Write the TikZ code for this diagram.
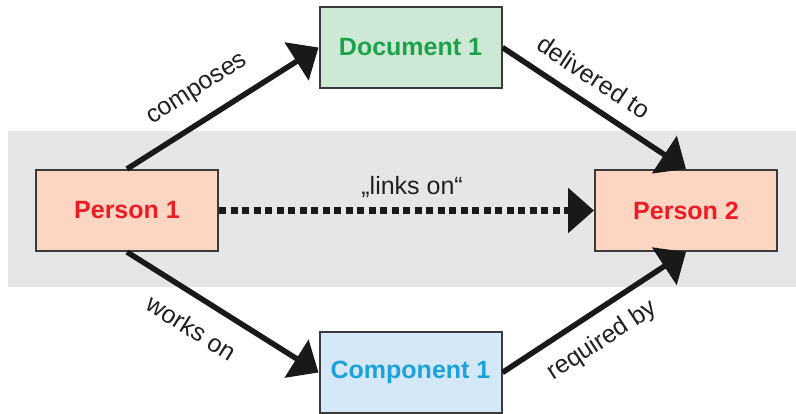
\documentclass[tikz,border=0pt]{standalone}
\usepackage{fontspec}
\setmainfont{Liberation Sans}
\usetikzlibrary{arrows.meta}
\definecolor{bandgray}{HTML}{E6E6E8}
\definecolor{boxline}{HTML}{3A3A3A}
\definecolor{personfill}{HTML}{FDD5C3}
\definecolor{personred}{HTML}{ED1C24}
\definecolor{docfill}{HTML}{CDE8D5}
\definecolor{docgreen}{HTML}{1BA24A}
\definecolor{compfill}{HTML}{D4E8F7}
\definecolor{compblue}{HTML}{1BA1DB}
\definecolor{lbltext}{HTML}{231F20}
\tikzset{
  entity/.style={draw=boxline, line width=2pt, minimum width=182pt, minimum height=81pt,
    inner sep=0pt, font=\fontsize{25}{30}\selectfont\bfseries},
  personbox/.style={entity, fill=personfill, text=personred},
  docbox/.style={entity, fill=docfill, text=docgreen},
  compbox/.style={entity, fill=compfill, text=compblue},
  rel/.style={line width=5.5pt, draw=black!90, -{Triangle[length=26pt,width=44pt]}},
  dotrel/.style={line width=6.5pt, draw=black!90, dash pattern=on 7pt off 4.5pt,
    -{Triangle[length=26pt,width=44pt]}},
  lbl/.style={font=\fontsize{25}{30}\selectfont, text=lbltext, inner sep=0pt}
}
\begin{document}
\begin{tikzpicture}[x=1pt,y=-1pt]
\useasboundingbox (0,0) rectangle (796,414);
\fill[bandgray] (8,131) rectangle (796,287);
\node[personbox] (p1) at (127,210.5) {Person 1};
\node[personbox] (p2) at (686,210.5) {Person 2};
\node[docbox] (d1) at (410.5,47.5) {Document 1};
\node[compbox] (c1) at (410.5,372.5) {Component 1};
\draw[rel] (p1.north) -- node[lbl, sloped, pos=0.45, above=16pt] {composes} (d1.west);
\draw[rel] (d1.east) -- node[lbl, sloped, pos=0.42, above=14pt] {delivered to} (p2.north);
\draw[rel] (p1.south) -- node[lbl, sloped, pos=0.42, below=18pt] {works on} (c1.west);
\draw[rel] (c1.east) -- node[lbl, sloped, pos=0.46, below=14pt] {required by} (p2.south);
\draw[dotrel] (p1.east) -- node[lbl, pos=0.515, anchor=base, yshift=16pt] {„links on“} (p2.west);
\end{tikzpicture}
\end{document}
